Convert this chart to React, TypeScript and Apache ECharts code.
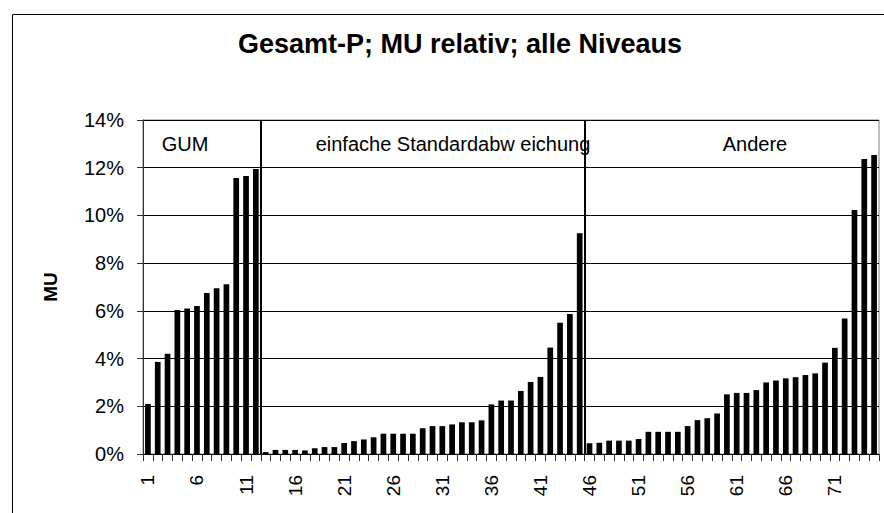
import React, { useEffect, useRef } from "react";
import * as echarts from "echarts";

const titleText = "Gesamt-P; MU relativ; alle Niveaus";
const yAxisName = "MU";
const sectionNames = ["GUM", "einfache Standardabw eichung", "Andere"];

const gumValues = [2.1, 3.86, 4.2, 6.04, 6.1, 6.2, 6.75, 6.95, 7.12, 11.57, 11.65, 11.95];
const einfacheValues = [
  0.08, 0.17, 0.17, 0.17, 0.15, 0.24, 0.29, 0.29, 0.46, 0.54, 0.61, 0.7, 0.85, 0.85, 0.85, 0.85,
  1.08, 1.17, 1.17, 1.24, 1.33, 1.33, 1.41, 2.08, 2.24, 2.24, 2.64, 3.02, 3.23, 4.46, 5.5, 5.87, 9.25,
];
const andereValues = [
  0.45, 0.47, 0.56, 0.56, 0.56, 0.63, 0.93, 0.93, 0.93, 0.93, 1.17, 1.42, 1.5, 1.7, 2.5, 2.56,
  2.56, 2.68, 3.0, 3.08, 3.17, 3.22, 3.31, 3.38, 3.83, 4.45, 5.68, 10.23, 12.37, 12.53,
];
const yTicks = [0, 2, 4, 6, 8, 10, 12, 14];

const FONT = "'Liberation Sans', Arial, sans-serif";

export default function App() {
  const ref = useRef<HTMLDivElement>(null);
  useEffect(() => {
    if (!ref.current) return;
    const chart = echarts.init(ref.current, undefined, { renderer: "svg" });
    const values = [...gumValues, ...einfacheValues, ...andereValues];
    const categories = values.map((_, i) => String(i + 1));
    const b1 = gumValues.length;
    const b2 = gumValues.length + einfacheValues.length;

    chart.setOption({
      animation: false,
      backgroundColor: "#fff",
      title: {
        text: titleText,
        left: 455,
        textAlign: "center",
        top: 25,
        textStyle: { fontFamily: FONT, fontSize: 27, fontWeight: "bold", color: "#000" },
      },
      grid: {
        left: 143,
        top: 120,
        width: 736,
        height: 334,
        show: true,
        borderColor: "#808080",
        borderWidth: 1,
        containLabel: false,
      },
      xAxis: [
        {
          type: "category",
          data: categories,
          boundaryGap: true,
          axisLine: { show: true, lineStyle: { color: "#000", width: 1 } },
          axisTick: { show: true, interval: 0, length: 7, lineStyle: { color: "#333" } },
          axisLabel: {
            interval: 4,
            rotate: 90,
            margin: 21,
            fontFamily: FONT,
            fontSize: 19,
            color: "#000",
          },
        },
        {
          type: "value",
          min: 0,
          max: values.length,
          show: false,
        },
      ],
      yAxis: {
        type: "value",
        min: yTicks[0],
        max: yTicks[yTicks.length - 1],
        interval: 2,
        name: yAxisName,
        nameLocation: "middle",
        nameRotate: 90,
        nameGap: 83,
        nameTextStyle: { fontFamily: FONT, fontSize: 19, fontWeight: "bold", color: "#000" },
        axisLine: { show: true, lineStyle: { color: "#333", width: 1 } },
        axisTick: { show: true, length: 6, lineStyle: { color: "#333" } },
        axisLabel: {
          margin: 19,
          fontFamily: FONT,
          fontSize: 20,
          color: "#000",
          formatter: (v: number) => `${v}%`,
        },
        splitLine: { show: true, lineStyle: { color: "#000", width: 1 } },
      },
      series: [
        {
          type: "bar",
          data: values,
          barWidth: "58%",
          itemStyle: { color: "#000" },
          xAxisIndex: 0,
        },
        {
          type: "line",
          data: [],
          xAxisIndex: 1,
          silent: true,
          markLine: {
            symbol: ["none", "none"],
            silent: true,
            label: { show: false },
            lineStyle: { color: "#000", width: 2, type: "solid" },
            data: [{ xAxis: b1 }, { xAxis: b2 }],
          },
        },
      ],
      graphic: [
        {
          type: "rect",
          shape: { x: 12.5, y: 14.5, width: 900, height: 520 },
          style: { fill: "none", stroke: "#000", lineWidth: 1 },
          silent: true,
          z: -1,
        },
        {
          type: "text",
          x: 185,
          y: 144,
          style: { text: sectionNames[0], fontFamily: FONT, fontSize: 20, fill: "#000", textAlign: "center", textVerticalAlign: "middle" },
        },
        {
          type: "text",
          x: 453,
          y: 144,
          style: { text: sectionNames[1], fontFamily: FONT, fontSize: 20, fill: "#000", textAlign: "center", textVerticalAlign: "middle" },
        },
        {
          type: "text",
          x: 755,
          y: 144,
          style: { text: sectionNames[2], fontFamily: FONT, fontSize: 20, fill: "#000", textAlign: "center", textVerticalAlign: "middle" },
        },
      ],
    });
    return () => chart.dispose();
  }, []);
  return (
    <div
      ref={ref}
      style={{ position: "fixed", left: 0, top: 0, width: 884, height: 513, background: "#fff" }}
    />
  );
}
